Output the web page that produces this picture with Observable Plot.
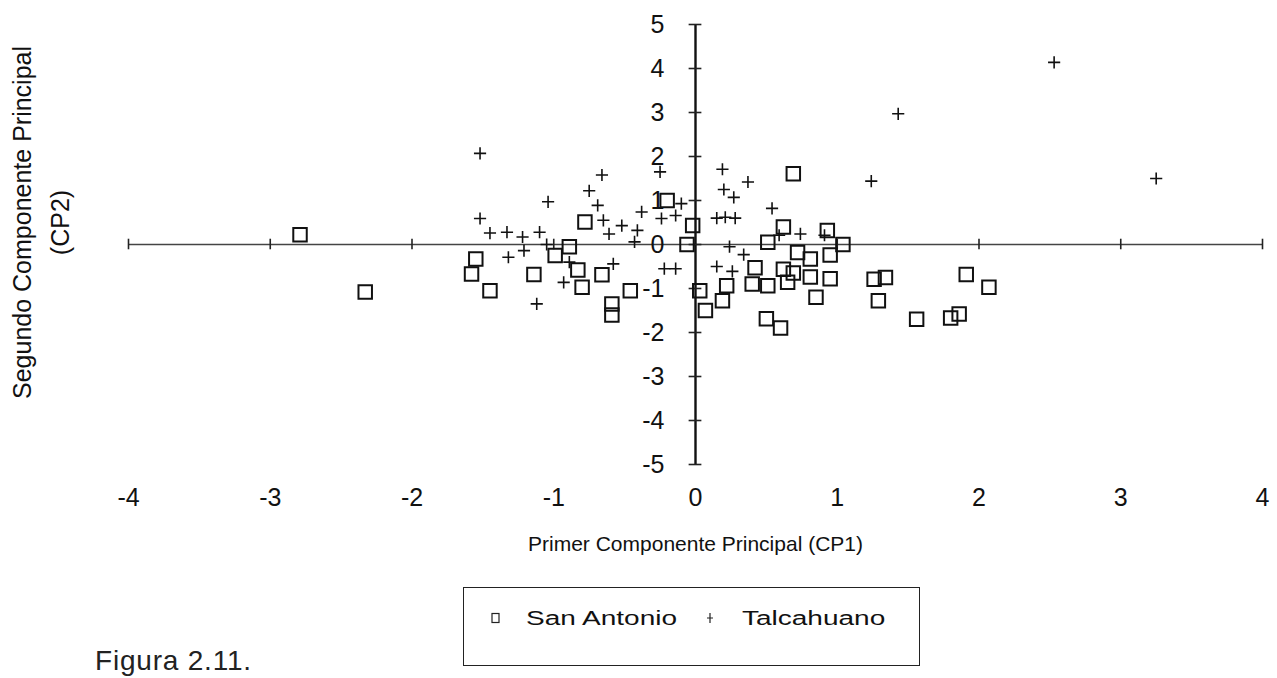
<!DOCTYPE html>
<html>
<head>
<meta charset="utf-8">
<script src="https://cdn.jsdelivr.net/npm/d3@7"></script>
<script src="https://cdn.jsdelivr.net/npm/@observablehq/plot@0.6"></script>
<style>
  body { margin: 0; background: #fff; font-family: "Liberation Sans", Arial, sans-serif; color: #111; }
  #fig { position: relative; width: 1277px; height: 678px; overflow: hidden; background: #fff; }
  #legend { position: absolute; left: 463px; top: 587px; width: 457px; height: 79px; border: 1.5px solid #222; box-sizing: border-box; }
  #legend .lab { position: absolute; top: 20px; font-size: 20px; line-height: 20px; transform: scaleX(1.4); transform-origin: left center; white-space: nowrap; }
  #legend svg { position: absolute; top: 24px; }
  #caption { position: absolute; left: 95px; top: 647px; font-size: 28px; line-height: 28px; letter-spacing: 0.8px; color: #222; }
</style>
</head>
<body>
<div id="fig">
  <div id="chart"></div>
  <div id="legend">
    <svg width="12" height="12" style="left:26px"><rect x="2" y="1.5" width="7" height="9" fill="none" stroke="#222" stroke-width="1.2"/></svg>
    <span class="lab" style="left:62px">San Antonio</span>
    <svg width="12" height="12" style="left:240px"><path d="M6,1V11M3,6H9" stroke="#222" stroke-width="1.2"/></svg>
    <span class="lab" style="left:278px">Talcahuano</span>
  </div>
  <div id="caption">Figura 2.11.</div>
</div>
<script>
// Principal component scores per port
const sanAntonioCP1 = [-2.79, -2.33, -1.55, -1.58, -1.45, -1.14, -0.89, -0.99, -0.80, -0.66, -0.46, -0.59, -0.59, -0.78, -0.83,
  -0.06, -0.20, -0.02, 0.03, 0.07, 0.19, 0.22, 0.42, 0.40, 0.51, 0.51, 0.62, 0.69, 0.65, 0.72, 0.81, 0.81, 0.85, 0.95, 0.95,
  1.04, 0.62, 0.93, 0.69, 1.26, 1.34, 1.29, 1.91, 2.07, 1.56, 1.80, 1.86, 0.50, 0.60];
const sanAntonioCP2 = [0.22, -1.08, -0.33, -0.67, -1.05, -0.68, -0.05, -0.25, -0.97, -0.69, -1.05, -1.35, -1.60, 0.51, -0.58,
  0.00, 1.00, 0.43, -1.05, -1.50, -1.28, -0.94, -0.53, -0.90, -0.94, 0.05, -0.56, -0.65, -0.86, -0.18, -0.33, -0.74, -1.20, -0.24, -0.78,
  0.00, 0.40, 0.32, 1.61, -0.79, -0.75, -1.28, -0.68, -0.97, -1.70, -1.67, -1.58, -1.69, -1.90];

const talcahuanoCP1 = [-1.52, -0.66, -0.75, -1.04, -0.69, -1.52, -1.45, -1.33, -1.22, -1.10, -0.61, -0.52, -0.65, -0.41, -0.38,
  -0.25, -0.10, -0.24, -0.14, -0.43, -1.32, -1.21, -1.05, -0.89, -0.93, -0.58, -1.12, -0.22, -0.14, 0.19, 0.37, 0.20, 0.27,
  0.54, 0.15, 0.21, 0.28, 1.24, 0.74, 0.91, 0.59, 0.24, 0.34, 0.15, 0.26, 1.43, 2.53, 3.25];
const talcahuanoCP2 = [2.07, 1.58, 1.22, 0.97, 0.89, 0.59, 0.26, 0.28, 0.17, 0.28, 0.24, 0.43, 0.55, 0.32, 0.74,
  1.65, 0.93, 0.59, 0.66, 0.06, -0.29, -0.14, 0.00, -0.40, -0.86, -0.44, -1.35, -0.55, -0.55, 1.71, 1.42, 1.25, 1.07,
  0.82, 0.60, 0.62, 0.60, 1.44, 0.24, 0.21, 0.21, -0.05, -0.23, -0.50, -0.61, 2.97, 4.14, 1.50];

const xTicks = [-4, -3, -2, -1, 0, 1, 2, 3, 4];
const yTicks = [-5, -4, -3, -2, -1, 0, 1, 2, 3, 4, 5];
const xTitle = "Primer Componente Principal (CP1)";
const yTitle = "Segundo Componente Principal\n(CP2)";

const sanAntonio = sanAntonioCP1.map((cp1, i) => ({cp1, cp2: sanAntonioCP2[i]}));
const talcahuano = talcahuanoCP1.map((cp1, i) => ({cp1, cp2: talcahuanoCP2[i]}));

const chart = Plot.plot({
  width: 1277,
  height: 580,
  marginLeft: 128,
  marginRight: 15,
  marginTop: 24,
  marginBottom: 116,
  x: {domain: [-4, 4], label: null},
  y: {domain: [-5, 5], label: null, axis: null},
  style: {fontFamily: "'Liberation Sans', Arial, sans-serif", background: "#fff", color: "#111"},
  marks: [
    // axes crossing at the origin
    Plot.ruleY([0], {x1: -4, x2: 4, stroke: "#444", strokeWidth: 1.4}),
    Plot.ruleX([0], {y1: -5, y2: 5, stroke: "#111", strokeWidth: 2.4}),
    Plot.ruleX(xTicks.filter(d => d !== 0), {x: d => d, y1: -0.12, y2: 0.12, stroke: "#222", strokeWidth: 1.6}),
    Plot.ruleY(yTicks, {y: d => d, x1: -0.045, x2: 0.045, stroke: "#222", strokeWidth: 1.6}),
    Plot.axisX(xTicks, {tickSize: 0, tickPadding: 24, fontSize: 25, tickFormat: d => String(d)}),
    Plot.text(yTicks, {x: 0, y: d => d, text: d => String(d), textAnchor: "end", dx: -31, fontSize: 25}),
    // observations
    Plot.dot(sanAntonio, {x: "cp1", y: "cp2", symbol: "square", r: 7.6, fill: "none", stroke: "#111", strokeWidth: 2}),
    Plot.dot(talcahuano, {x: "cp1", y: "cp2", symbol: "plus", r: 4, stroke: "#111", strokeWidth: 1.6}),
    // axis titles
    Plot.text([yTitle], {frameAnchor: "left", textAnchor: "middle", rotate: -90, dx: -91, dy: -22, fontSize: 25, lineHeight: 1.55}),
    Plot.text([xTitle], {frameAnchor: "bottom", textAnchor: "middle", dy: 86, fontSize: 21})
  ]
});
document.getElementById("chart").appendChild(chart);
</script>
</body>
</html>
